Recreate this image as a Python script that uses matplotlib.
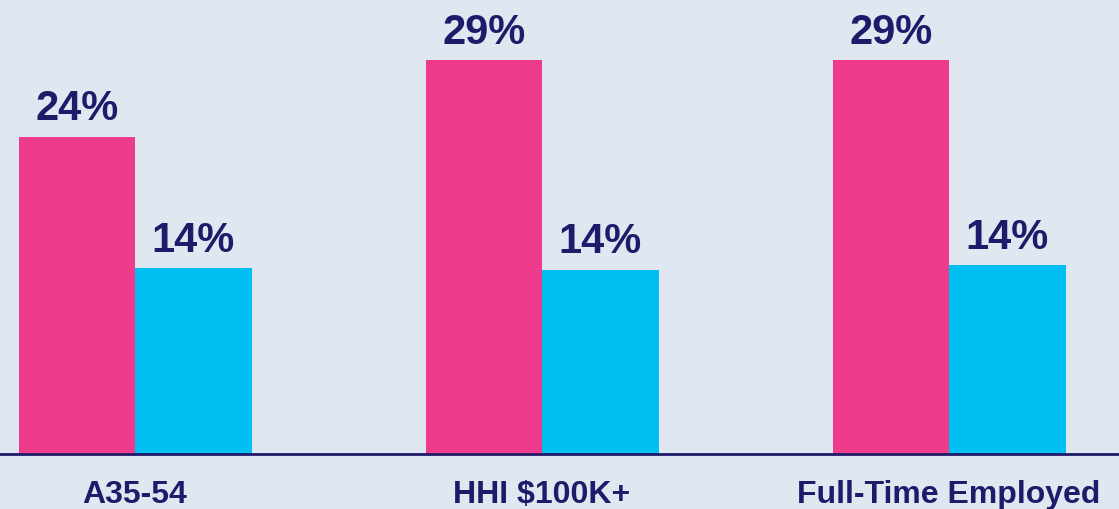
import numpy as np
import matplotlib
matplotlib.use("Agg")
import matplotlib.pyplot as plt

categories = ["A35-54", "HHI $100K+", "Full-Time Employed"]
pink_values = [23.6, 29.3, 29.3]
blue_values = [13.8, 13.7, 14.05]
pink_labels = ["24%", "29%", "29%"]
blue_labels = ["14%", "14%", "14%"]

bg = "#E1E7F1"
navy = "#1F1A6A"
pink = "#EE3B8B"
blue = "#00BFF2"

plt.rcParams["font.family"] = ["Liberation Sans", "DejaVu Sans"]

fig = plt.figure(figsize=(11.19, 5.10), dpi=100)
fig.patch.set_facecolor(bg)
ax = fig.add_axes([0, 55 / 510, 1, 455 / 510])
ax.set_facecolor(bg)

x = np.arange(len(categories))
width = 116.5 / 407

bars1 = ax.bar(x - width / 2, pink_values, width, color=pink)
bars2 = ax.bar(x + width / 2, blue_values, width, color=blue)

for bars, labels in [(bars1, pink_labels), (bars2, blue_labels)]:
    for b, lab in zip(bars, labels):
        ax.annotate(lab, (b.get_x() + b.get_width() / 2, b.get_height()),
                    xytext=(0, 6), textcoords="offset points",
                    ha="center", va="bottom", fontsize=30,
                    fontweight="bold", color=navy)

ax.set_xlim(-135 / 407, (1119 - 135) / 407)
ax.set_ylim(0, 455 / 13.45)

for side in ["top", "right", "left"]:
    ax.spines[side].set_visible(False)
ax.spines["bottom"].set_color(navy)
ax.spines["bottom"].set_linewidth(2)

ax.set_yticks([])
ax.set_xticks(x)
ax.set_xticklabels(categories, fontsize=23, fontweight="bold", color=navy)
ax.tick_params(axis="x", length=0, pad=18)

fig.savefig("out.png", dpi=100, facecolor=bg)
